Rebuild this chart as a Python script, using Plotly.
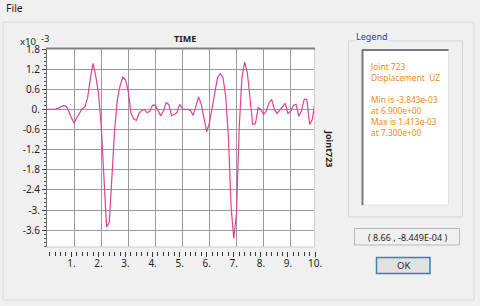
import plotly.graph_objects as go

# ---- data (displacement UZ of Joint 723, in units of 1e-3) ----
time_s = [0.0, 0.1, 0.2, 0.3, 0.4, 0.5, 0.6, 0.7, 0.8, 0.9,
          1.0, 1.1, 1.2, 1.3, 1.4, 1.5, 1.6, 1.7, 1.8, 1.9,
          2.0, 2.1, 2.2, 2.3, 2.4, 2.5, 2.6, 2.7, 2.8, 2.9,
          3.0, 3.1, 3.2, 3.3, 3.4, 3.5, 3.6, 3.7, 3.8, 3.9,
          4.0, 4.1, 4.2, 4.3, 4.4, 4.5, 4.6, 4.7, 4.8, 4.9,
          5.0, 5.1, 5.2, 5.3, 5.4, 5.5, 5.6, 5.7, 5.8, 5.9,
          6.0, 6.1, 6.2, 6.3, 6.4, 6.5, 6.6, 6.7, 6.8, 6.9,
          7.0, 7.1, 7.2, 7.3, 7.4, 7.5, 7.6, 7.7, 7.8, 7.9,
          8.0, 8.1, 8.2, 8.3, 8.4, 8.5, 8.6, 8.7, 8.8, 8.9,
          9.0, 9.1, 9.2, 9.3, 9.4, 9.5, 9.6, 9.7, 9.8, 9.9]
uz_e3 = [0.0, 0.0, 0.0, 0.0, 0.03, 0.07, 0.11, 0.10, -0.05, -0.25,
         -0.41, -0.25, -0.10, 0.02, 0.08, 0.35, 0.90, 1.37, 1.00, 0.50,
         -0.45, -2.10, -3.50, -3.37, -1.90, -0.60, 0.30, 0.70, 0.96, 0.88,
         0.55, -0.10, -0.28, -0.33, -0.12, -0.03, 0.00, -0.10, -0.05, 0.13,
         0.12, -0.05, -0.19, -0.05, 0.20, 0.15, -0.18, -0.15, -0.10, 0.15,
         0.02, 0.00, 0.00, -0.03, -0.18, 0.10, 0.37, 0.15, -0.25, -0.66,
         -0.40, 0.05, 0.60, 0.95, 1.07, 0.95, 0.40, -0.80, -2.90, -3.843,
         -3.10, -0.55, 0.95, 1.413, 1.10, 0.30, -0.45, -0.42, 0.05, 0.00,
         -0.15, -0.05, 0.20, 0.30, 0.00, -0.12, -0.02, 0.10, 0.18, -0.12,
         -0.05, 0.12, 0.15, -0.20, -0.05, 0.30, 0.30, -0.45, -0.30, 0.20]

y_tickvals = [1.8, 1.2, 0.6, 0.0, -0.6, -1.2, -1.8, -2.4, -3.0, -3.6]
y_ticktext = ["1.8", "1.2", "0.6", "0.", "-0.6", "-1.2", "-1.8", "-2.4", "-3.", "-3.6"]
x_tickvals = [1, 2, 3, 4, 5, 6, 7, 8, 9, 10]
x_ticktext = ["1.", "2.", "3.", "4.", "5.", "6.", "7.", "8.", "9.", "10."]

legend_lines = ["Joint 723", "Displacement  UZ", "", "Min is -3.843e-03", "at 6.900e+00",
                "Max is 1.413e-03", "at 7.300e+00"]
cursor_text = "( 8.66 , -8.449E-04 )"

# ---- geometry ----
W, H = 480, 306
L, R, T, B = 47, 165, 49, 55
PW, PH = W - L - R, H - T - B
PLOT_BOTTOM = 247


def px(x):
    return (x - L) / PW


def py(y):
    return (H - B - y) / PH


FONT = "Noto Sans"
LINE = "#e23f98"

fig = go.Figure()
fig.add_trace(go.Scatter(x=time_s, y=uz_e3, mode="lines",
                         line=dict(color=LINE, width=1.2),
                         hoverinfo="x+y", showlegend=False))

shapes = []


def rect(x0, y0, x1, y1, color, fill="rgba(0,0,0,0)", width=1, layer="below"):
    shapes.append(dict(type="rect", xref="paper", yref="paper",
                       x0=px(x0), x1=px(x1), y0=py(y1), y1=py(y0),
                       line=dict(color=color, width=width), fillcolor=fill, layer=layer))


def hline(x0, x1, y, color, width=1, layer="below"):
    shapes.append(dict(type="line", xref="paper", yref="paper",
                       x0=px(x0), x1=px(x1), y0=py(y), y1=py(y),
                       line=dict(color=color, width=width), layer=layer))


def vline(x, y0, y1, color, width=1, layer="below"):
    shapes.append(dict(type="line", xref="paper", yref="paper",
                       x0=px(x), x1=px(x), y0=py(y0), y1=py(y1),
                       line=dict(color=color, width=width), layer=layer))


# main dialog panel
rect(3, 22, 474, 300, "#dadada")
# plot frame (sunken look)
vline(314.5, 48, PLOT_BOTTOM, "#cfcfcf", layer="above")
hline(47, 314.5, PLOT_BOTTOM, "#cfcfcf", layer="above")
hline(46, 315, 48.5, "#808080", width=2, layer="above")
# legend group box
rect(348.5, 41, 462.5, 217, "#d5d5d5")
rect(362, 49.5, 448.5, 205, "#e3e3e3", fill="white")
hline(362, 448.5, 50, "#7a7a7a", width=2)
vline(362.5, 49.5, 205, "#7a7a7a", width=2)
# cursor readout box
rect(354.5, 228.5, 459.5, 245, "#b9b9b9", fill="#f0f0f0")
# OK button
rect(376.5, 257.5, 430, 273.5, "#3c7fb1", fill="#e1e1e1", width=1.5)

ann = []


def text(x, y, s, size=10, color="#1e1e1e", xanchor="center", yanchor="middle",
         bold=False, angle=0, bg=None, align="left"):
    d = dict(xref="paper", yref="paper", x=px(x), y=py(y), text=("<b>%s</b>" % s if bold else s),
             showarrow=False, xanchor=xanchor, yanchor=yanchor, textangle=angle,
             font=dict(family=FONT, size=size, color=color), align=align,
             borderpad=0)
    if bg:
        d["bgcolor"] = bg
    ann.append(d)


text(5, 8, "File", size=10.5, xanchor="left")
text(27.5, 41.5, "x10", size=9.5)
text(45, 38.5, "-3", size=9.5)
text(185, 39, "TIME", size=9, bold=True)
text(330, 149, "Joint723", size=9, bold=True, angle=90)
text(355, 37, "Legend", size=9, color="#2b3d9b", xanchor="left", bg="#f0f0f0")
text(369, 60, "<br>".join(legend_lines), size=8.4, color="#ee8a22",
     xanchor="left", yanchor="top")
text(407, 237, cursor_text, size=9)
text(403, 265.5, "OK", size=9.5)

fig.update_layout(
    width=W, height=H,
    margin=dict(l=L, r=R, t=T, b=B),
    paper_bgcolor="#f0f0f0", plot_bgcolor="white",
    showlegend=False,
    shapes=shapes, annotations=ann,
    xaxis=dict(range=[0, 9.9], tickvals=[1, 2, 3, 4, 5, 6, 7, 8, 9],
               showticklabels=False, ticks="", showgrid=True,
               gridcolor="#9a9a9a", gridwidth=1, zeroline=False, showline=False,
               fixedrange=True),
    xaxis2=dict(range=[0.1, 10.0], overlaying="x", anchor="free", position=0,
                side="bottom", tickvals=x_tickvals, ticktext=x_ticktext,
                ticks="outside", ticklen=5, tickcolor="#333333", tickwidth=1,
                minor=dict(dtick=0.2, tick0=0, ticks="outside", ticklen=4,
                           tickcolor="#333333", tickwidth=1, showgrid=False),
                showgrid=False, zeroline=False, showline=False,
                ticklabelstandoff=-2,
                tickfont=dict(family=FONT, size=10, color="#1e1e1e")),
    yaxis=dict(domain=[(H - B - PLOT_BOTTOM) / PH, 1], range=[-4.1, 1.8],
               tickvals=y_tickvals, ticktext=y_ticktext,
               ticks="outside", ticklen=4, tickcolor="#444444",
               minor=dict(dtick=0.12, tick0=0, ticks="outside", ticklen=2,
                          tickcolor="#555555", showgrid=False),
               showgrid=True, gridcolor="#9a9a9a", gridwidth=1,
               zeroline=False, showline=True, linecolor="#6e6e6e", linewidth=1,
               ticklabelstandoff=0,
               tickfont=dict(family=FONT, size=10, color="#1e1e1e")),
)
fig.add_trace(go.Scatter(x=[], y=[], xaxis="x2", yaxis="y", showlegend=False))

fig.write_html("out.html", config={"displayModeBar": False},
               post_script="document.body.style.margin='0';document.body.style.overflow='hidden';")
